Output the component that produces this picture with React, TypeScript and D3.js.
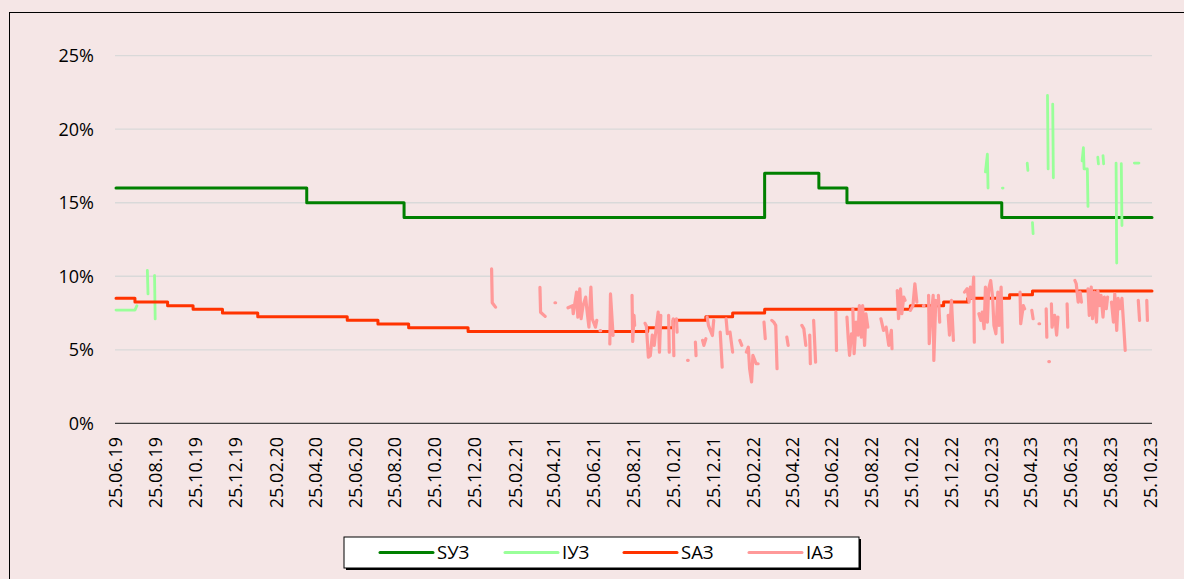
import React from 'react';
import * as d3 from 'd3';

// x axis tick labels (every two months)
const xTickLabels = [
  '25.06.19', '25.08.19', '25.10.19', '25.12.19', '25.02.20', '25.04.20', '25.06.20',
  '25.08.20', '25.10.20', '25.12.20', '25.02.21', '25.04.21', '25.06.21', '25.08.21',
  '25.10.21', '25.12.21', '25.02.22', '25.04.22', '25.06.22', '25.08.22', '25.10.22',
  '25.12.22', '25.02.23', '25.04.23', '25.06.23', '25.08.23', '25.10.23',
];
const yTicks = [0, 5, 10, 15, 20, 25];

type Pt = [string, number] | null;

// SУЗ – step series
const sy3: Pt[] = [
  ['2019-06-25', 16], ['2020-04-12', 15], ['2020-09-08', 14], ['2022-03-14', 17],
  ['2022-06-05', 16], ['2022-07-18', 15], ['2023-03-12', 14], ['2023-10-28', 14],
];

// SАЗ – step series
const sa3: Pt[] = [
  ['2019-06-25', 8.5], ['2019-07-24', 8.25], ['2019-09-12', 8.0], ['2019-10-21', 7.75],
  ['2019-12-05', 7.5], ['2020-01-28', 7.25], ['2020-06-13', 7.0], ['2020-07-30', 6.75],
  ['2020-09-15', 6.5], ['2020-12-15', 6.25], ['2021-09-16', 6.5], ['2021-10-25', 7.0],
  ['2021-12-14', 7.25], ['2022-01-24', 7.5], ['2022-03-14', 7.75], ['2022-10-23', 8.0],
  ['2022-12-13', 8.25], ['2023-01-19', 8.5], ['2023-03-24', 8.75], ['2023-04-28', 9.0],
  ['2023-10-28', 9.0],
];

// IУЗ – sparse, null = gap
const iy3: Pt[] = [
  ['2019-06-25', 7.7], ['2019-07-24', 7.7], ['2019-07-27', 8.0], null,
  ['2019-08-12', 10.4], ['2019-08-13', 8.8], null,
  ['2019-08-23', 10.05], ['2019-08-24', 7.1], null,
  ['2023-02-15', 17.1], ['2023-02-18', 18.3], ['2023-02-19', 16.0], null,
  ['2023-03-13', 16.0], ['2023-03-14', 16.0], null,
  ['2023-04-20', 17.7], ['2023-04-21', 17.2], null,
  ['2023-04-28', 13.65], ['2023-04-29', 12.9], null,
  ['2023-05-21', 22.3], ['2023-05-22', 17.3], null,
  ['2023-05-29', 21.7], ['2023-05-30', 16.7], null,
  ['2023-07-13', 17.85], ['2023-07-15', 18.75], ['2023-07-16', 17.3], ['2023-07-21', 17.3], ['2023-07-22', 14.75], null,
  ['2023-08-06', 18.1], ['2023-08-07', 17.65], null,
  ['2023-08-14', 18.2], ['2023-08-15', 17.65], null,
  ['2023-09-03', 17.7], ['2023-09-04', 10.9], null,
  ['2023-09-11', 17.65], ['2023-09-12', 13.45], null,
  ['2023-10-01', 17.7], ['2023-10-08', 17.7],
];

// IАЗ – sparse, null = gap
const ia3: Pt[] = [
  ['2021-01-20', 10.5], ['2021-01-21', 8.2], ['2021-01-26', 7.9], null,
  ['2021-04-04', 9.25], ['2021-04-05', 7.55], ['2021-04-12', 7.27], null,
  ['2021-04-27', 8.2], ['2021-04-28', 8.2], null,
  ['2021-05-17', 7.86], ['2021-05-24', 8.0], ['2021-05-25', 7.45], ['2021-05-30', 8.92],
  ['2021-06-01', 7.22], ['2021-06-04', 9.15], ['2021-06-06', 7.11], ['2021-06-09', 8.0],
  ['2021-06-13', 8.58], ['2021-06-15', 7.68], ['2021-06-18', 6.54], ['2021-06-21', 9.26],
  ['2021-06-23', 7.11], ['2021-06-28', 6.54], ['2021-06-30', 7.0], null,
  ['2021-07-05', 6.3], ['2021-07-06', 6.3], null,
  ['2021-07-20', 5.4], ['2021-07-21', 8.8], ['2021-07-25', 5.97], null,
  ['2021-08-23', 8.7], ['2021-08-24', 5.57], ['2021-08-26', 7.34], ['2021-08-27', 6.66], null,
  ['2021-09-12', 6.8], ['2021-09-14', 6.6], ['2021-09-17', 4.5], ['2021-09-20', 4.6],
  ['2021-09-23', 6.0], ['2021-09-26', 5.3], ['2021-09-28', 6.1], ['2021-10-02', 7.56],
  ['2021-10-04', 4.84], ['2021-10-06', 7.34], null,
  ['2021-10-18', 7.34], ['2021-10-19', 4.84], null,
  ['2021-10-25', 7.11], ['2021-10-26', 4.6], null,
  ['2021-10-30', 7.11], ['2021-10-31', 6.2], null,
  ['2021-11-16', 4.28], ['2021-11-17', 4.28], null,
  ['2021-11-28', 5.52], ['2021-11-29', 4.6], null,
  ['2021-12-09', 5.64], ['2021-12-11', 5.3], ['2021-12-14', 5.75], null,
  ['2021-12-16', 7.22], ['2021-12-18', 6.66], ['2021-12-24', 5.97], ['2021-12-26', 7.0], null,
  ['2022-01-05', 6.2], ['2022-01-08', 3.82], null,
  ['2022-01-14', 7.11], ['2022-01-16', 6.09], null,
  ['2022-01-20', 6.2], ['2022-01-24', 4.84], null,
  ['2022-02-04', 5.64], ['2022-02-07', 5.3], null,
  ['2022-02-14', 4.84], ['2022-02-17', 5.18], ['2022-02-19', 3.71], ['2022-02-22', 2.81],
  ['2022-02-24', 4.62], ['2022-03-01', 4.05], ['2022-03-04', 4.05], null,
  ['2022-03-13', 6.88], ['2022-03-15', 5.75], null,
  ['2022-03-25', 7.0], ['2022-03-28', 6.88], ['2022-03-31', 6.66], ['2022-04-02', 3.71], null,
  ['2022-04-17', 5.86], ['2022-04-19', 5.3], null,
  ['2022-05-10', 6.66], ['2022-05-13', 6.43], ['2022-05-16', 5.3], null,
  ['2022-05-22', 6.0], ['2022-05-23', 4.05], null,
  ['2022-05-28', 7.0], ['2022-05-31', 4.16], null,
  ['2022-07-01', 7.56], ['2022-07-02', 4.96], null,
  ['2022-07-18', 7.22], ['2022-07-20', 5.75], ['2022-07-22', 4.62], ['2022-07-25', 6.09], null,
  ['2022-07-27', 7.79], ['2022-07-29', 4.73], ['2022-08-01', 6.88], ['2022-08-04', 6.0],
  ['2022-08-06', 8.0], ['2022-08-09', 5.86], ['2022-08-11', 8.0], ['2022-08-14', 5.3],
  ['2022-08-16', 7.45], ['2022-08-19', 6.54], null,
  ['2022-09-08', 7.11], ['2022-09-12', 6.32], null,
  ['2022-09-16', 6.54], ['2022-09-20', 5.3], ['2022-09-24', 6.32], ['2022-09-25', 5.07], null,
  ['2022-10-03', 9.03], ['2022-10-05', 7.11], ['2022-10-08', 9.15], ['2022-10-10', 7.45],
  ['2022-10-13', 8.58], ['2022-10-15', 8.36], null,
  ['2022-10-23', 7.68], ['2022-10-27', 8.0], ['2022-10-30', 9.49], ['2022-11-02', 8.24], null,
  ['2022-11-12', 8.0], ['2022-11-13', 8.0], null,
  ['2022-11-20', 8.7], ['2022-11-21', 5.41], ['2022-11-23', 6.88], ['2022-11-27', 8.7],
  ['2022-11-28', 4.28], ['2022-12-01', 8.36], null,
  ['2022-12-05', 8.7], ['2022-12-07', 6.88], null,
  ['2022-12-20', 7.34], ['2022-12-22', 6.0], ['2022-12-25', 8.36], ['2022-12-28', 5.64], null,
  ['2023-01-14', 8.92], ['2023-01-18', 9.15], ['2023-01-21', 8.24], ['2023-01-23', 9.26],
  ['2023-01-26', 8.5], ['2023-01-28', 9.94], ['2023-01-29', 5.52], null,
  ['2023-02-05', 7.45], ['2023-02-08', 7.0], ['2023-02-10', 7.56], ['2023-02-13', 6.43],
  ['2023-02-15', 9.26], ['2023-02-18', 6.88], ['2023-02-20', 9.15], ['2023-02-23', 9.71],
  ['2023-02-26', 8.58], ['2023-02-28', 6.66], ['2023-03-03', 6.09], ['2023-03-06', 8.92],
  ['2023-03-08', 6.66], ['2023-03-11', 9.26], ['2023-03-13', 5.52], null,
  ['2023-04-09', 8.92], ['2023-04-10', 6.77], ['2023-04-14', 8.0], ['2023-04-16', 7.79], null,
  ['2023-04-27', 7.68], ['2023-04-29', 7.11], null,
  ['2023-05-08', 6.77], ['2023-05-09', 6.77], null,
  ['2023-05-19', 7.79], ['2023-05-20', 5.86], null,
  ['2023-05-23', 4.2], ['2023-05-24', 4.2], null,
  ['2023-05-27', 8.13], ['2023-05-28', 6.54], ['2023-06-01', 7.34], ['2023-06-04', 6.0], ['2023-06-06', 7.22], null,
  ['2023-06-20', 8.13], ['2023-06-21', 6.54], null,
  ['2023-07-02', 9.71], ['2023-07-04', 9.49], ['2023-07-07', 8.24], ['2023-07-10', 8.92], ['2023-07-12', 8.24], null,
  ['2023-07-22', 9.15], ['2023-07-24', 7.34], ['2023-07-27', 9.26], ['2023-07-29', 7.11],
  ['2023-08-01', 8.92], ['2023-08-04', 6.88], ['2023-08-06', 9.03], ['2023-08-09', 8.0],
  ['2023-08-11', 8.7], ['2023-08-14', 7.22], ['2023-08-16', 8.58], ['2023-08-19', 7.79],
  ['2023-08-21', 8.58], null,
  ['2023-08-27', 8.24], ['2023-08-30', 6.88], ['2023-09-01', 8.81], ['2023-09-04', 6.32],
  ['2023-09-06', 8.5], ['2023-09-09', 7.79], ['2023-09-12', 8.5], ['2023-09-14', 7.11],
  ['2023-09-17', 4.96], null,
  ['2023-10-07', 8.36], ['2023-10-09', 7.0], null,
  ['2023-10-20', 8.36], ['2023-10-21', 7.0],
];

const seriesNames = ['SУЗ', 'IУЗ', 'SАЗ', 'IАЗ'];
const seriesColors = ['#008000', '#99FF99', '#FF3300', '#FF9999'];

const W = 1184;
const H = 579;
const FONT = '"Open Sans", "Noto Sans", sans-serif';

export default function App() {
  const parse = d3.timeParse('%Y-%m-%d');
  const parseTick = d3.timeParse('%d.%m.%y');

  const x = d3.scaleTime()
    .domain([parse('2019-06-25')!, parse('2023-10-28')!])
    .range([116, 1152]);
  const y = d3.scaleLinear().domain([0, 25]).range([423.3, 55.7]);

  const toPts = (arr: Pt[]) => arr.map(d => (d ? { date: parse(d[0])!, v: d[1] } : null));

  const stepLine = d3.line<any>()
    .x(d => x(d.date))
    .y(d => y(d.v))
    .curve(d3.curveStepAfter);

  const gapLine = d3.line<any>()
    .defined(d => d !== null)
    .x(d => x(d.date))
    .y(d => y(d.v));

  const paths = [
    { d: stepLine(toPts(sy3) as any), color: seriesColors[0], w: 3 },
    { d: gapLine(toPts(iy3)), color: seriesColors[1], w: 2.8 },
    { d: stepLine(toPts(sa3) as any), color: seriesColors[2], w: 3 },
    { d: gapLine(toPts(ia3)), color: seriesColors[3], w: 3.2 },
  ];

  const legendX = 344;
  const legendY = 537;
  const legendW = 515;
  const legendH = 31;
  const itemStarts = [36, 161, 280, 405];

  return (
    <div style={{ position: 'fixed', left: 0, top: 0 }}>
      <svg width={W} height={H} style={{ display: 'block' }}>
        <rect x={0} y={0} width={W} height={H} fill="#F5E6E6" />
        <rect x={9.5} y={12.5} width={W + 20} height={H + 20} fill="none" stroke="#000" strokeWidth={1} />

        {/* gridlines */}
        {yTicks.filter(t => t > 0).map(t => (
          <line key={t} x1={115} x2={1152} y1={y(t)} y2={y(t)} stroke="#D9D9D9" strokeWidth={1.3} />
        ))}

        {/* y labels */}
        {yTicks.map(t => (
          <text key={t} x={94} y={y(t)} dy="0.36em" textAnchor="end"
            fontFamily={FONT} fontSize={18} fill="#000">{t}%</text>
        ))}

        {/* x axis */}
        <line x1={115} x2={1152} y1={y(0)} y2={y(0)} stroke="#404040" strokeWidth={1.3} />
        {xTickLabels.map(l => {
          const tx = x(parseTick(l)!);
          return (
            <text key={l} transform={`translate(${tx},437) rotate(-90)`} dy="0.36em"
              textAnchor="end" fontFamily={FONT} fontSize={18} fill="#000">{l}</text>
          );
        })}

        {/* series */}
        {paths.map((p, i) => (
          <path key={i} d={p.d || ''} fill="none" stroke={p.color} strokeWidth={p.w}
            strokeLinecap="round" strokeLinejoin="round" />
        ))}

        {/* legend */}
        <rect x={legendX + 2} y={legendY + 2} width={legendW} height={legendH} fill="#000" />
        <rect x={legendX} y={legendY} width={legendW} height={legendH} fill="#fff" stroke="#000" strokeWidth={1} />
        {seriesNames.map((name, i) => {
          const sx = legendX + itemStarts[i];
          const cy = legendY + legendH / 2;
          return (
            <g key={name}>
              <line x1={sx} x2={sx + 53} y1={cy} y2={cy} stroke={seriesColors[i]} strokeWidth={3} strokeLinecap="round" />
              <text x={sx + 57} y={cy} dy="0.36em" fontFamily={FONT} fontSize={18.5} fill="#000">{name}</text>
            </g>
          );
        })}
      </svg>
    </div>
  );
}
